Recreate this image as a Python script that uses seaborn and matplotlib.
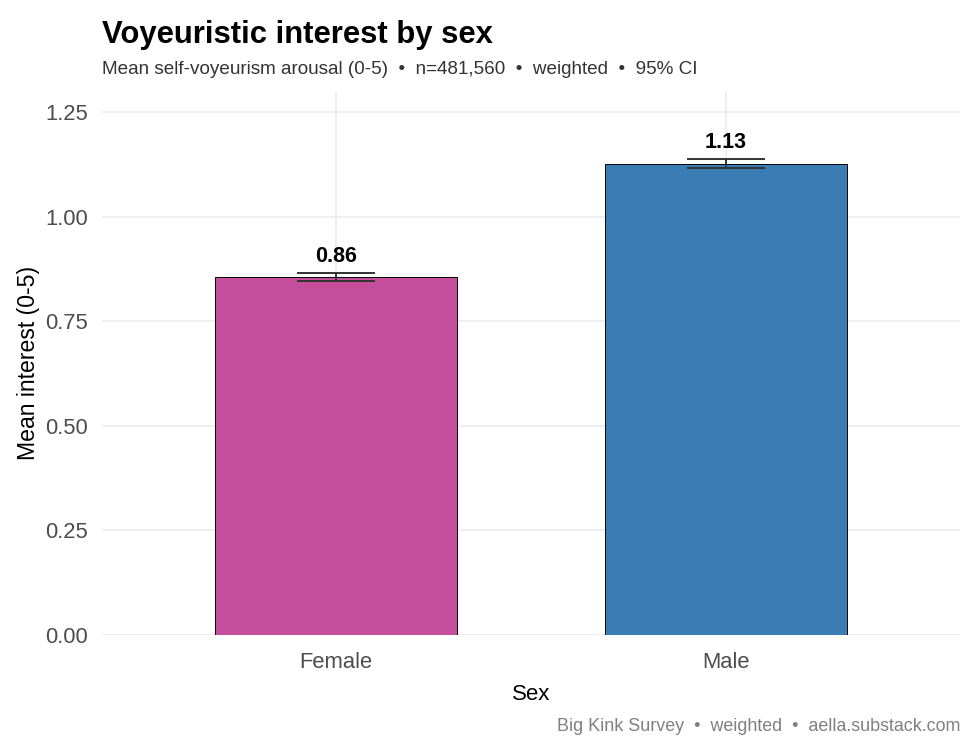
import matplotlib
matplotlib.use("Agg")
import matplotlib.pyplot as plt
import seaborn as sns
import pandas as pd
import numpy as np

# ---- data ----
categories = ["Female", "Male"]
means = [0.855, 1.126]
ci_low = [0.845, 1.115]
ci_high = [0.866, 1.138]
bar_labels = ["0.86", "1.13"]
colors = ["#C44E9B", "#3A7DB5"]
y_ticks = [0.00, 0.25, 0.50, 0.75, 1.00, 1.25]

title = "Voyeuristic interest by sex"
subtitle = "Mean self-voyeurism arousal (0-5)  \u2022  n=481,560  \u2022  weighted  \u2022  95% CI"
caption = "Big Kink Survey  \u2022  weighted  \u2022  aella.substack.com"

df = pd.DataFrame({"Sex": categories, "mean": means, "lo": ci_low, "hi": ci_high})

sns.set_theme(style="whitegrid")
plt.rcParams["font.family"] = ["Liberation Sans", "DejaVu Sans"]

fig = plt.figure(figsize=(9.75, 7.5), dpi=100)
ax = fig.add_axes([0.1046, 0.1533, 0.8800, 0.7254])

sns.barplot(data=df, x="Sex", y="mean", hue="Sex", palette=colors,
            order=categories, hue_order=categories, legend=False, saturation=1,
            width=0.62, edgecolor="black", linewidth=0.7, ax=ax, zorder=2)

yerr = np.array([df["mean"] - df["lo"], df["hi"] - df["mean"]])
ax.errorbar(df["Sex"], df["mean"], yerr=yerr, fmt="none", ecolor="#333333",
            elinewidth=1.4, capsize=28, capthick=1.4, zorder=3)

for cat, hi, lab in zip(df["Sex"], df["hi"], bar_labels):
    ax.text(cat, hi + 0.014, lab, ha="center", va="bottom",
            fontsize=15.5, fontweight="bold", color="black", zorder=4)

ax.set_xlim(-0.6, 1.6)
ax.set_ylim(0, 1.30)
ax.set_yticks(y_ticks)
ax.set_yticklabels([f"{v:.2f}" for v in y_ticks])

ax.set_facecolor("white")
for s in ax.spines.values():
    s.set_visible(False)
ax.grid(True, axis="both", color="#EBEBEB", linewidth=1.1, zorder=0)
ax.set_axisbelow(True)
ax.tick_params(axis="both", length=0, labelsize=15.8, labelcolor="#4D4D4D")
ax.tick_params(axis="y", pad=10)
ax.tick_params(axis="x", pad=12)

ax.set_xlabel("Sex", fontsize=16, color="black", labelpad=8)
ax.set_ylabel("Mean interest (0-5)", fontsize=16.6, color="black", labelpad=4)

fig.text(0.1046, 0.974, title, fontsize=22.3, fontweight="bold", color="black",
         ha="left", va="top")
fig.text(0.1046, 0.919, subtitle, fontsize=13.6, color="#333333", ha="left", va="top")
fig.text(0.985, 0.020, caption, fontsize=12.9, color="#808080", ha="right", va="bottom")

fig.savefig("out.png", dpi=100)
